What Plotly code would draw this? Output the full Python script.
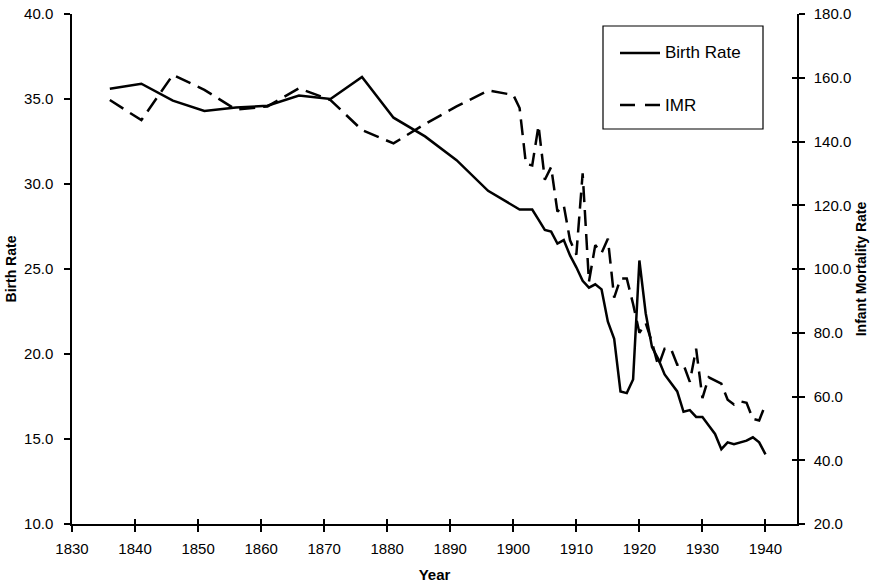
import plotly.graph_objects as go

# ---- data ----
years = [1836, 1841, 1846, 1851, 1856, 1861, 1866, 1871, 1876, 1881, 1886, 1891, 1896,
         1900, 1901, 1902, 1903, 1904, 1905, 1906, 1907, 1908, 1909, 1910,
         1911, 1912, 1913, 1914, 1915, 1916, 1917, 1918, 1919, 1920,
         1921, 1922, 1923, 1924, 1925, 1926, 1927, 1928, 1929, 1930,
         1931, 1932, 1933, 1934, 1935, 1936, 1937, 1938, 1939, 1940]

birth_rate = [35.6, 35.9, 34.9, 34.3, 34.5, 34.6, 35.2, 35.0, 36.3, 33.9, 32.8, 31.4, 29.6,
              28.7, 28.5, 28.5, 28.5, 27.9, 27.3, 27.2, 26.5, 26.7, 25.8, 25.1,
              24.3, 23.9, 24.1, 23.8, 21.9, 20.9, 17.8, 17.7, 18.5, 25.5,
              22.4, 20.4, 19.7, 18.8, 18.3, 17.8, 16.6, 16.7, 16.3, 16.3,
              15.8, 15.3, 14.4, 14.8, 14.7, 14.8, 14.9, 15.1, 14.8, 14.1]

imr = [153.0, 146.7, 160.9, 156.2, 150.0, 151.0, 156.7, 153.0, 143.6, 139.4, 145.5, 151.0, 156.0,
       154.6, 150.5, 133.0, 132.5, 145.0, 128.0, 132.0, 118.0, 120.0, 109.0, 104.5,
       130.0, 96.0, 107.5, 105.0, 109.5, 91.0, 97.0, 97.0, 89.0, 80.0,
       83.0, 77.0, 69.5, 75.0, 75.0, 70.0, 70.0, 64.6, 75.0, 59.5,
       66.0, 65.0, 64.0, 59.0, 57.5, 58.5, 58.0, 53.0, 52.5, 57.5]

x_ticks = list(range(1830, 1941, 10))
y_ticks = [10, 15, 20, 25, 30, 35, 40]
y2_ticks = [20, 40, 60, 80, 100, 120, 140, 160, 180]

series_names = ["Birth Rate", "IMR"]

# ---- layout geometry (pixels) ----
W, H = 873, 586
L, R, T, B = 72, 76, 14, 62
PW, PH = W - L - R, H - T - B


def px(xp):
    return (xp - L) / PW


def py(yp):
    return 1 - (yp - T) / PH


FONT = "Liberation Sans, Arial, sans-serif"
TICKFONT = dict(family=FONT, size=15, color="black")

fig = go.Figure()
fig.add_trace(go.Scatter(x=years, y=birth_rate, mode="lines", name=series_names[0],
                         line=dict(color="black", width=2.5), yaxis="y", showlegend=False))
fig.add_trace(go.Scatter(x=years, y=imr, mode="lines", name=series_names[1],
                         line=dict(color="black", width=2.5, dash="16px,8px"),
                         yaxis="y2", showlegend=False))

axis_common = dict(showgrid=False, zeroline=False, showline=True, linecolor="black",
                   linewidth=1.5, ticks="outside", ticklen=6, tickwidth=1.5,
                   tickcolor="black", tickfont=TICKFONT)

fig.update_layout(
    width=W, height=H,
    margin=dict(l=L, r=R, t=T, b=B, pad=0, autoexpand=False),
    paper_bgcolor="white", plot_bgcolor="white",
    showlegend=False,
    xaxis=dict(range=[1830, 1945], tickvals=x_ticks, ticklabelstandoff=4,
               title=dict(text="<b>Year</b>", font=dict(family=FONT, size=15, color="black"),
                          standoff=14),
               **axis_common),
    xaxis2=dict(range=[1830, 1945], tickvals=x_ticks, overlaying="x", side="bottom",
                showgrid=False, zeroline=False, showline=False, ticks="inside", ticklen=5,
                tickwidth=1.5, tickcolor="black", showticklabels=False, anchor="y"),
    yaxis=dict(range=[10, 40], tickvals=y_ticks, tickformat=".1f", ticklabelstandoff=8,
               title=dict(text="<b>Birth Rate</b>", font=dict(family=FONT, size=14, color="black"),
                          standoff=4),
               **axis_common),
    yaxis2=dict(range=[20, 180], tickvals=y2_ticks, tickformat=".1f", overlaying="y",
                side="right", anchor="x", ticklabelstandoff=6,
                title=dict(text="<b>Infant Mortality Rate</b>",
                           font=dict(family=FONT, size=14, color="black"), standoff=6),
                **axis_common),
    yaxis3=dict(range=[20, 180], tickvals=y2_ticks, overlaying="y", side="right", anchor="x",
                showgrid=False, zeroline=False, showline=False, ticks="inside", ticklen=5,
                tickwidth=1.5, tickcolor="black", showticklabels=False),
)

# dummy traces to activate the extra tick axes
fig.add_trace(go.Scatter(x=[None], y=[None], xaxis="x2", yaxis="y", showlegend=False,
                         hoverinfo="skip"))
fig.add_trace(go.Scatter(x=[None], y=[None], xaxis="x", yaxis="y3", showlegend=False,
                         hoverinfo="skip"))

# ---- legend box ----
bx0, bx1, by0, by1 = 603, 763, 26, 129
fig.add_shape(type="rect", xref="paper", yref="paper", x0=px(bx0), x1=px(bx1),
              y0=py(by1), y1=py(by0), line=dict(color="black", width=1.2),
              fillcolor="white", layer="above")
legend_rows = [(53, None), (105, "15px,10px")]
for name, (yy, dash) in zip(series_names, legend_rows):
    fig.add_shape(type="line", xref="paper", yref="paper", x0=px(620), x1=px(660),
                  y0=py(yy), y1=py(yy),
                  line=dict(color="black", width=2.5, dash=dash or "solid"), layer="above")
    fig.add_annotation(text=name, xref="paper", yref="paper", x=px(663), y=py(yy),
                       xanchor="left", yanchor="middle", showarrow=False,
                       font=dict(family=FONT, size=17, color="black"))

fig.write_html("out.html", config={"displayModeBar": False},
               post_script="document.body.style.margin='0px';document.body.style.overflow='hidden';")
